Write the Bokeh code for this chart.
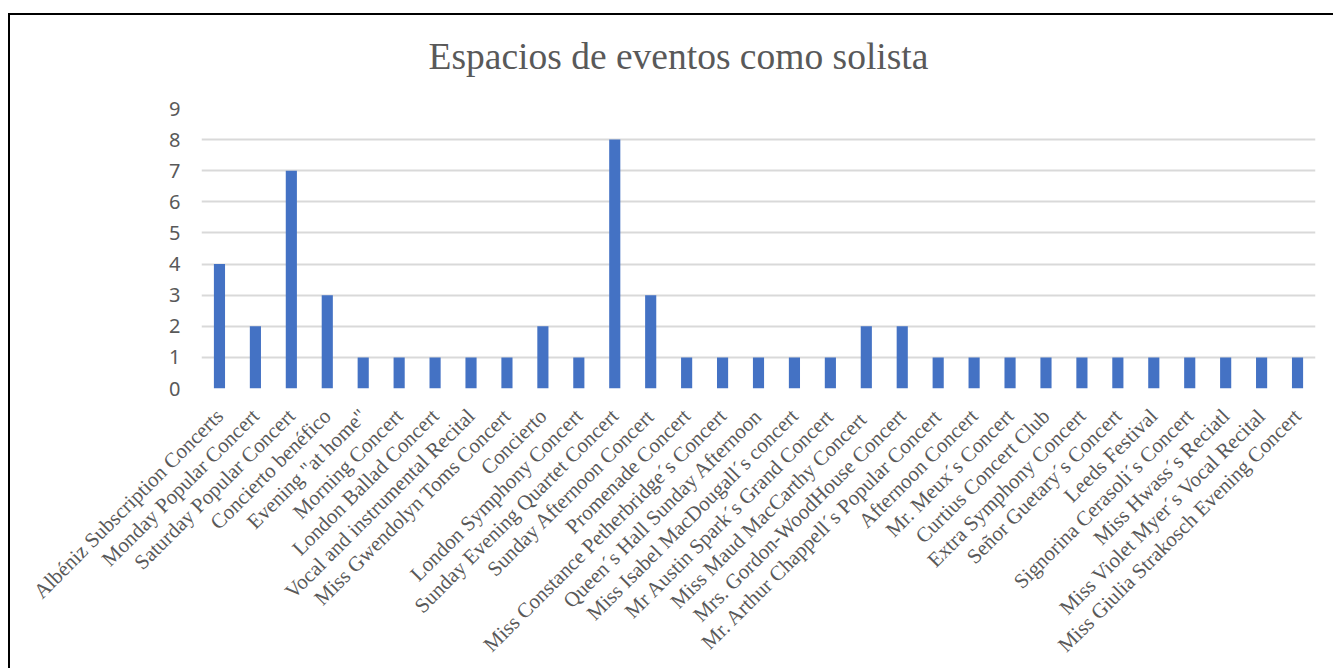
import math
from bokeh.plotting import figure
from bokeh.models import ColumnDataSource, FactorRange, Range1d, SingleIntervalTicker, Title
from bokeh.embed import file_html
from bokeh.resources import INLINE

categories = [
    "Albéniz Subscription Concerts",
    "Monday Popular Concert",
    "Saturday Popular Concert",
    "Concierto benéfico",
    "Evening \"at home\"",
    "Morning Concert",
    "London Ballad Concert",
    "Vocal and instrumental Recital",
    "Miss Gwendolyn Toms Concert",
    "Concierto",
    "London Symphony Concert",
    "Sunday Evening Quartet Concert",
    "Sunday Afternoon Concert",
    "Promenade Concert",
    "Miss Constance Petherbridge´s Concert",
    "Queen´s Hall Sunday Afternoon",
    "Miss Isabel MacDougall´s concert",
    "Mr Austin Spark´s Grand Concert",
    "Miss Maud MacCarthy  Concert",
    "Mrs. Gordon-WoodHouse Concert",
    "Mr. Arthur Chappell´s Popular Concert",
    "Afternoon Concert",
    "Mr. Meux´s Concert",
    "Curtius Concert Club",
    "Extra Symphony Concert",
    "Señor Guetary´s Concert",
    "Leeds Festival",
    "Signorina Cerasoli´s Concert",
    "Miss Hwass´s Reciatl",
    "Miss Violet Myer´s Vocal Recital",
    "Miss Giulia Strakosch Evening Concert",
]
values = [4, 2, 7, 3, 1, 1, 1, 1, 1, 2, 1, 8, 3, 1, 1, 1, 1, 1, 2, 2,
          1, 1, 1, 1, 1, 1, 1, 1, 1, 1, 1]
title_text = "Espacios de eventos como solista"

source = ColumnDataSource(data=dict(cat=categories, val=values))

p = figure(
    x_range=FactorRange(factors=categories, range_padding=0),
    y_range=Range1d(0, 9),
    frame_width=1114, frame_height=280,
    min_border_left=191, min_border_top=93,
    min_border_right=18, min_border_bottom=280,
    output_backend="svg", toolbar_location=None,
    title=None,
)
p.styles = {"border-left": "2px solid black", "border-top": "2px solid black",
            "margin-top": "13px", "margin-left": "8px"}
p.outline_line_color = None
p.background_fill_color = "white"
p.border_fill_color = "white"

# spacer between the chart title and the plot area
p.add_layout(Title(text=" ", text_font_size="1px", standoff=27), "above")
p.add_layout(Title(text=title_text, text_font="Liberation Serif",
                   text_font_size="37.5px", text_font_style="normal",
                   text_color="#595959", align="left", offset=227,
                   vertical_align="top", standoff=0), "above")

p.vbar(x="cat", top="val", width=0.31, source=source,
       fill_color="#4472C4", line_color=None)

p.xgrid.grid_line_color = None
p.ygrid.grid_line_color = "#d9d9d9"
p.ygrid.grid_line_width = 2
p.yaxis.ticker = SingleIntervalTicker(interval=1)

for ax in (p.xaxis[0], p.yaxis[0]):
    ax.axis_line_color = None
    ax.major_tick_line_color = None
    ax.minor_tick_line_color = None
    ax.major_tick_out = 0
    ax.major_tick_in = 0
    ax.major_label_text_color = "#595959"

p.yaxis.major_label_text_font = "Noto Sans"
p.yaxis.major_label_text_font_size = "20px"
p.yaxis.major_label_standoff = 17

p.xaxis.major_label_text_font = "Liberation Serif"
p.xaxis.major_label_text_font_size = "21px"
p.xaxis.major_label_orientation = math.pi / 4
p.xaxis.major_label_standoff = 24

open("out.html", "w").write(file_html(p, INLINE))
